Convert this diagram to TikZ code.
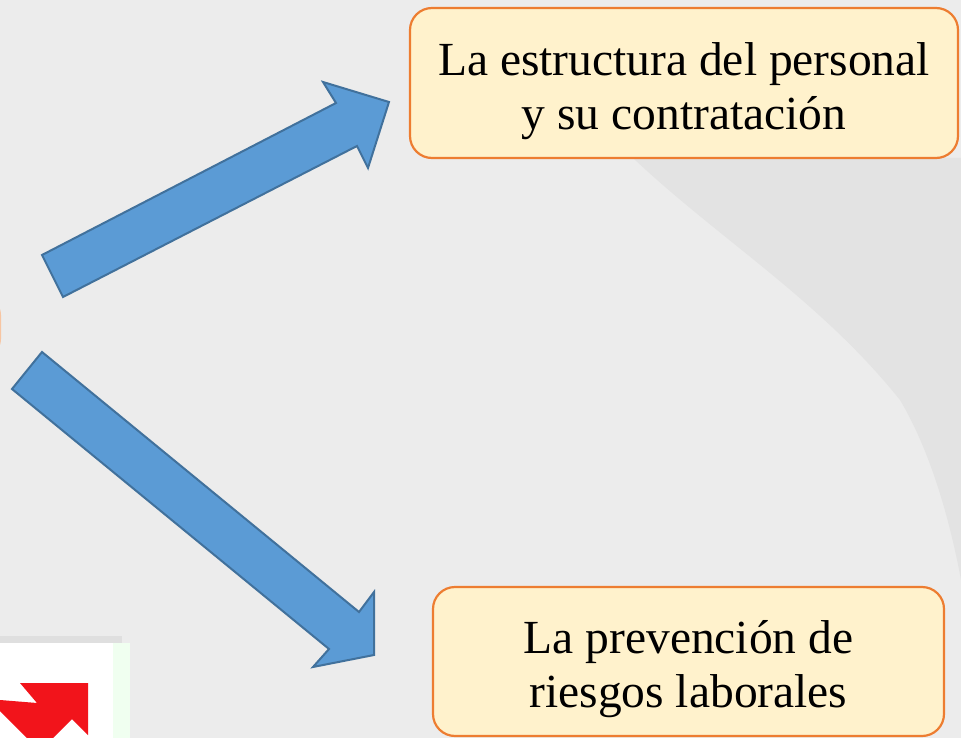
\documentclass[tikz,border=0pt]{standalone}
\usepackage{fontspec}
\setmainfont{Liberation Serif}
\definecolor{bg}{HTML}{ECECEC}
\definecolor{bgshade}{HTML}{E3E3E3}
\definecolor{boxfill}{HTML}{FFF2CC}
\definecolor{boxline}{HTML}{ED7D31}
\definecolor{arrfill}{HTML}{5B9BD5}
\definecolor{arrline}{HTML}{41719C}
\definecolor{redicon}{HTML}{F2141B}
\begin{document}
\begin{tikzpicture}[x=1pt,y=-1pt,
  topicbox/.style={draw=boxline,fill=boxfill,line width=2.2pt,rounded corners=22pt,inner sep=0pt},
  topictext/.style={align=center,inner sep=0pt,font=\fontsize{47.5}{54}\selectfont},
  blockarrow/.style={draw=arrline,fill=arrfill,line width=2pt,line join=miter}]
\useasboundingbox (0,0) rectangle (961,738);
\fill[bg] (0,0) rectangle (961,738);
% faint background shading on the right
\fill[bgshade] (633,158) .. controls (720,240) and (820,300) .. (900,400)
  .. controls (930,450) and (950,520) .. (961,580) -- (961,158) -- cycle;
% partially visible node at the left edge
\begin{scope}
\clip (0,0) rectangle (961,738);
\node[draw=boxline!45,fill=boxfill,line width=2pt,rounded corners=18pt,
  minimum width=60pt,minimum height=60pt] (left) at (-30,327) {};
\end{scope}
% picture fragment at bottom left
\fill[gray!25] (0,636) rectangle (122,738);
\fill[white] (0,643) rectangle (113,738);
\fill[green!6] (113,643) rectangle (130,738);
\fill[redicon] (20,683) -- (88,683) -- (88,735) -- (72,719) -- (40,751) -- (0,711) -- (0,700) -- (37,703) -- cycle;
% boxes
\node[topicbox,minimum width=548pt,minimum height=150pt] (top) at (684,83) {};
\node[topictext] (toptext) at (684,91) {La estructura del personal\\y su contratación};
\node[topicbox,minimum width=511pt,minimum height=149pt] (bottom) at (688.5,661.5) {};
\node[topictext] (bottomtext) at (688.5,669) {La prevención de\\riesgos laborales};
% block arrows
\draw[blockarrow] (42,255) -- (336,103) -- (323,82) -- (389,102) -- (368,168)
  -- (357,146) -- (63,297) -- cycle;
\draw[blockarrow] (42,352) -- (359,612) -- (374,592) -- (374,655) -- (313,667)
  -- (329,649) -- (12,389) -- cycle;
\end{tikzpicture}
\end{document}
